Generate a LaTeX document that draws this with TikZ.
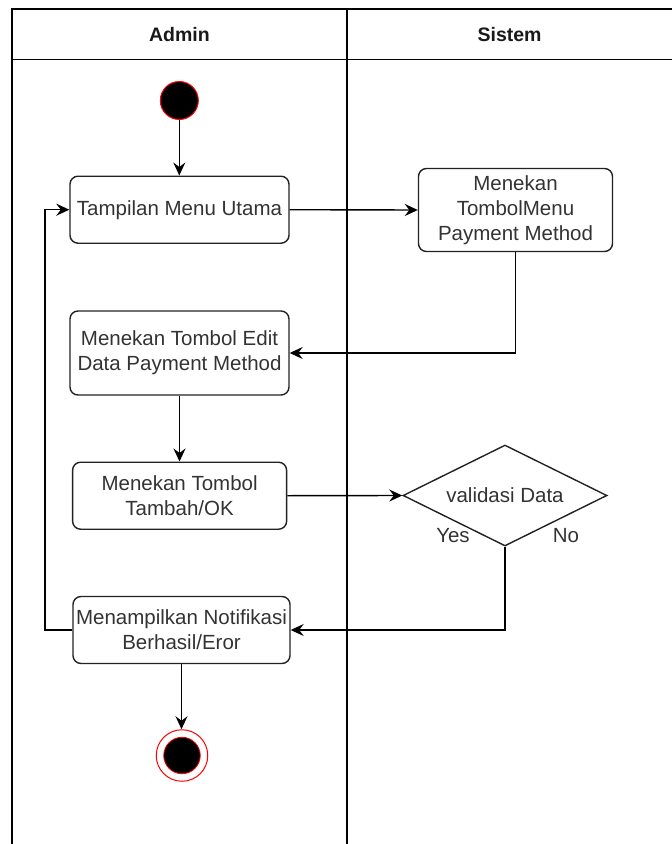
\documentclass[tikz,border=0pt]{standalone}
\usepackage{fontspec}
\setmainfont{Liberation Sans}
\usetikzlibrary{arrows.meta,shapes.geometric}
\definecolor{txt}{HTML}{333333}
\definecolor{edge}{HTML}{222222}

\begin{document}
\begin{tikzpicture}[x=1pt,y=-1pt,
  lane/.style={line width=1.7pt, draw=black},
  lanehead/.style={font=\bfseries\fontsize{19.5}{23}\selectfont, text=black!90},
  activity/.style={draw=edge, line width=1.4pt, rounded corners=8pt, align=center,
    text=txt, font=\fontsize{20.5}{25}\selectfont, inner sep=0pt},
  decision/.style={diamond, aspect=2, draw=edge, line width=1.4pt, inner sep=0pt,
    minimum width=204, minimum height=101, text=txt, font=\fontsize{20.5}{25}\selectfont},
  guard/.style={text=txt, font=\fontsize{20.5}{25}\selectfont, inner sep=0pt},
  flow/.style={line width=1.4pt, draw=black, -{Stealth[length=13pt,width=12pt,inset=4.5pt]}},
]
\useasboundingbox (0,0) rectangle (672,844);

% swimlane pool: header row and two lanes
\draw[lane] (11.7,844) -- (11.7,8.7) -- (672,8.7);
\draw[lane] (11.7,59.5) -- (672,59.5);
\draw[lane] (347.3,8.7) -- (347.3,844);
\node[lanehead] (hadmin) at (179.5,34.5) {Admin};
\node[lanehead] (hsistem) at (509.6,34.5) {Sistem};

% initial node
\node[circle, fill=black, draw=red, line width=1pt, minimum size=38, inner sep=0pt] (start) at (179.3,100.5) {};

% activities
\node[activity, minimum width=219, minimum height=67] (menu) at (179.5,209.7) {Tampilan Menu Utama};
\node[activity, minimum width=194, minimum height=83] (tmenu) at (515.5,210) {Menekan\\TombolMenu\\Payment Method};
\node[activity, minimum width=219, minimum height=84] (edit) at (179.5,353) {Menekan Tombol Edit\\Data Payment Method};
\node[activity, minimum width=214, minimum height=67] (tambah) at (179.6,495.7) {Menekan Tombol\\Tambah/OK};
\node[decision] (val) at (505,495.5) {validasi Data};
\node[activity, minimum width=217, minimum height=67] (notif) at (181.5,630) {Menampilkan Notifikasi\\Berhasil/Eror};

% guards
\node[guard] (yes) at (453,536) {Yes};
\node[guard] (no) at (566,536) {No};

% final node
\node[circle, draw=red, line width=1pt, minimum size=51.5, inner sep=0pt] (final) at (182,755.5) {};
\node[circle, fill=black, draw=red, line width=0.8pt, minimum size=36.5, inner sep=0pt] (finalcore) at (final.center) {};

% control flow
\draw[flow] (start.south) -- (start.south |- menu.north);
\draw[flow] (menu.east) -- (tmenu.west);
\draw[flow] (tmenu.south) |- (edit.east);
\draw[flow] (edit.south) -- (edit.south |- tambah.north);
\draw[flow] (tambah.east) -- (val.west);
\draw[flow] (val.south) |- (notif.east);
\draw[flow] (notif.west) -- ++(-27.5,0) |- (menu.west);
\draw[flow] (notif.south) -- (notif.south |- final.north);
\end{tikzpicture}
\end{document}
